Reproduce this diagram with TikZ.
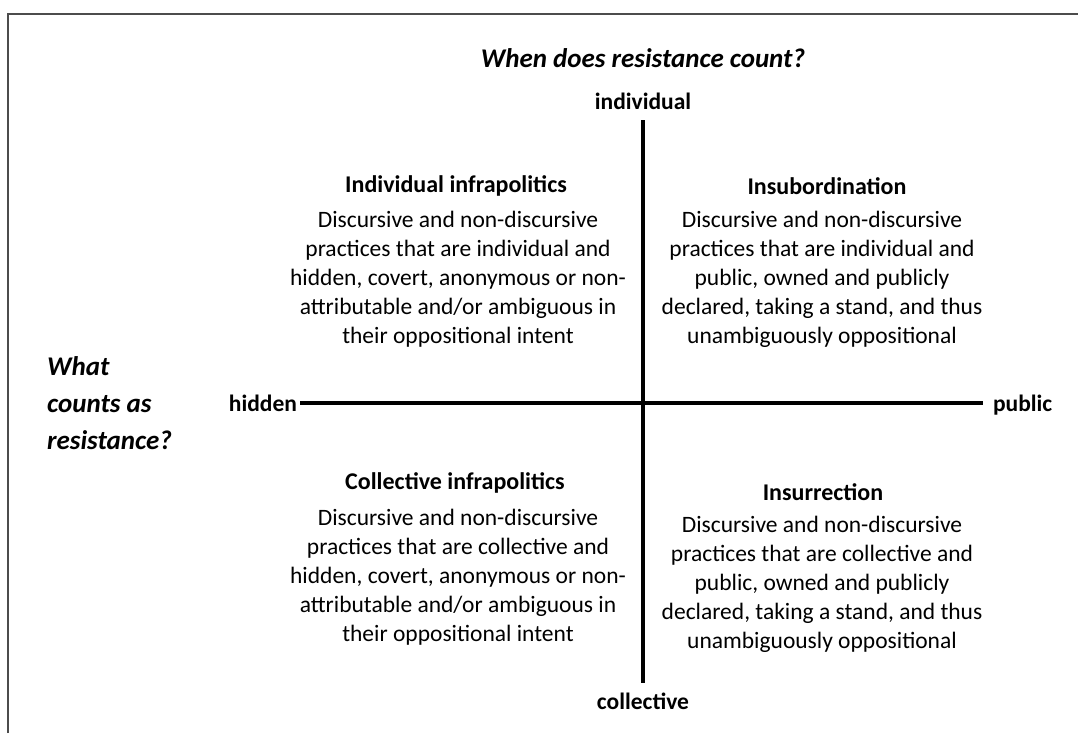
\documentclass[tikz,border=0pt]{standalone}
\usepackage{fontspec}
\setmainfont{Carlito}
\usepackage{tikz}
\usetikzlibrary{positioning}

\begin{document}
\begin{tikzpicture}[
        x=1pt, y=-1pt,
        head/.style  = {font=\fontsize{24}{29}\selectfont\bfseries},
        body/.style  = {align=center, font=\fontsize{23.5}{29}\selectfont},
        pole/.style  = {font=\fontsize{23.5}{28}\selectfont\bfseries, inner sep=0pt},
        quest/.style = {font=\fontsize{27}{37}\selectfont\bfseries\itshape},
        axis/.style  = {line width=3.5pt}
    ]
        \useasboundingbox (0,0) rectangle (1078,733);
        \draw[line width=1.5pt, black!70] (8,733) -- (8,14) -- (1078,14);
        % axes and their poles
        \node[quest] (when) at (643,58) {When does resistance count?};
        \node[quest, align=left, anchor=north west, inner sep=0pt] (what) at (47,356)
            {What\\counts as\\resistance?};
        \node[pole, anchor=base, outer sep=10pt] (indiv) at (643,110) {individual};
        \node[pole, anchor=base, outer sep=9pt]  (coll)  at (643,709) {collective};
        \node[pole, anchor=base east, outer sep=3pt]  (hidden) at (300,411) {hidden};
        \node[pole, anchor=base west, outer sep=10pt] (public) at (983,411) {public};
        \draw[axis] (indiv.south) -- (indiv.south |- coll.north);
        \draw[axis] (hidden.east) -- (hidden.east -| public.west);
        % quadrants
        \node[head] (infind) at (456,186) {Individual infrapolitics};
        \node[body] (infindtx) at (458,279) {Discursive and non-discursive\\
            practices that are individual and\\hidden, covert, anonymous or non-\\
            attributable and/or ambiguous in\\their oppositional intent};
        \node[head] (insub) at (827,186) {Insubordination};
        \node[body] (insubtx) at (822,279) {Discursive and non-discursive\\
            practices that are individual and\\public, owned and publicly\\
            declared, taking a stand, and thus\\unambiguously oppositional};
        \node[head] (infcol) at (455,483) {Collective infrapolitics};
        \node[body] (infcoltx) at (458,577) {Discursive and non-discursive\\
            practices that are collective and\\hidden, covert, anonymous or non-\\
            attributable and/or ambiguous in\\their oppositional intent};
        \node[head] (insur) at (823,492) {Insurrection};
        \node[body] (insurtx) at (822,584) {Discursive and non-discursive\\
            practices that are collective and\\public, owned and publicly\\
            declared, taking a stand, and thus\\unambiguously oppositional};
\end{tikzpicture}
\end{document}
